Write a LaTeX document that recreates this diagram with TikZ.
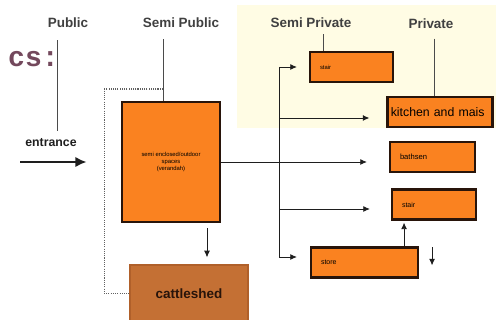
\documentclass[tikz,border=0pt]{standalone}
\usepackage{fontspec}
\setmainfont{Liberation Sans}
\newfontfamily\monofam{Liberation Mono}
\usetikzlibrary{arrows.meta, positioning, calc}
\definecolor{roomfill}{RGB}{250,130,32}
\definecolor{roomedge}{RGB}{40,20,10}
\definecolor{shedfill}{RGB}{196,112,52}
\definecolor{shededge}{RGB}{176,96,42}
\definecolor{creambg}{RGB}{255,252,228}
\definecolor{mydark}{RGB}{30,30,30}
\definecolor{mymauve}{RGB}{115,72,92}
\tikzset{
  zone/.style={font=\fontsize{11.5}{12}\selectfont\bfseries, color=mydark!85, inner sep=1pt},
  room/.style={rectangle, draw=roomedge, fill=roomfill, line width=1.8pt,
    minimum height=0.9cm, inner xsep=0.3cm, align=left,
    font=\fontsize{5}{6}\selectfont},
  arrow/.style={-{Latex[length=2mm,width=1.8mm]}, line width=0.8pt, color=mydark},
  bigarrow/.style={-{Latex[length=3.4mm,width=3.2mm]}, line width=2pt, color=mydark},
  vline/.style={line width=0.7pt, color=mydark!80},
  dotline/.style={densely dotted, line width=0.9pt, color=mydark!70},
  line/.style={line width=0.8pt, color=mydark}
}
\begin{document}
\begin{tikzpicture}[x=0.03cm, y=-0.03cm]
  \useasboundingbox (0,0) rectangle (496,320);

  % background
  \fill[creambg] (237,5) rectangle (496,128);
  \node[font=\monofam\bfseries\fontsize{24}{24}\selectfont, color=mymauve,
    anchor=base west, inner sep=0pt] (title) at (8,67) {cs:};

  % zone labels
  \node[zone] (pub) at (68,23) {Public};
  \node[zone] (spub) at (181,23) {Semi Public};
  \node[zone] (spriv) at (311,23) {Semi Private};
  \node[zone] (priv) at (431,24) {Private};
  \node[font=\fontsize{10.5}{11}\selectfont\bfseries, color=mydark] (entr) at (51,143) {entrance};

  % rooms
  \node[room, minimum width=2.94cm, minimum height=3.6cm, line width=2.4pt, align=center]
    (semi) at (171,162) {semi enclosed/outdoor\\spaces\\(verandah)};
  \node[room, text width=1.89cm] (stair1) at (351.5,67) {stair};
  \node[room, text width=2.95cm, inner xsep=0.1cm, font=\fontsize{10.5}{11}\selectfont]
    (kitchen) at (440,112) {kitchen and mais};
  \node[room, text width=1.95cm, font=\fontsize{6.5}{7}\selectfont] (bath) at (432.5,157) {bathsen};
  \node[room, text width=1.92cm, font=\fontsize{6}{7}\selectfont] (stair2) at (434,204.5) {stair};
  \node[room, text width=2.61cm, font=\fontsize{6}{7}\selectfont] (store) at (364.5,262.5) {store};
  \node[rectangle, draw=shededge, fill=shedfill, line width=1pt, minimum width=3.54cm,
    minimum height=1.71cm, text=roomedge, font=\fontsize{11.5}{12}\selectfont\bfseries]
    (cattle) at (189,293.5) {cattleshed};

  % lines from the zone labels
  \draw[vline, shorten <=0.33cm, shorten >=0.1cm] ([xshift=-0.33cm]pub.south) -- ([xshift=-0.33cm]pub.south |- entr.north);
  \draw[vline, shorten <=0.3cm] ([xshift=-0.54cm]spub.south) -- ([xshift=-0.54cm]spub.south |- semi.north);
  \draw[vline, shorten <=0.15cm] ([xshift=0.36cm]spriv.south) -- ([xshift=0.36cm]spriv.south |- stair1.north);
  \draw[vline, shorten <=0.25cm] ([xshift=0.09cm]priv.south) -- ([xshift=0.09cm]priv.south |- kitchen.north);

  % entrance and cattleshed
  \coordinate (entry) at (20,162);
  \draw[bigarrow, shorten >=1.02cm] (entry) -- (semi.west);
  \coordinate (dj) at (163,89);
  \draw[dotline] (dj) -| ([xshift=-0.75cm]cattle.west) -- (cattle.west);
  \draw[arrow, shorten <=0.15cm, shorten >=0.21cm] ([xshift=1.08cm]semi.south) -- ([xshift=1.08cm]semi.south |- cattle.north);

  % trunk to the private side
  \coordinate (trunk) at (279,163);
  \draw[line] (trunk |- stair1.west) -- ([yshift=0.165cm]trunk |- store.west);
  \draw[arrow, shorten >=0.36cm] (trunk |- stair1.west) -- (stair1.west);
  \draw[arrow, shorten >=0.51cm] ([yshift=-0.18cm]trunk |- kitchen.west) -- ([yshift=-0.18cm]kitchen.west);
  \draw[arrow, shorten >=0.66cm] (semi.east) -- (semi.east -| bath.west);
  \draw[arrow, shorten >=0.63cm] ([yshift=-0.135cm]trunk |- stair2.west) -- ([yshift=-0.135cm]stair2.west);
  \draw[arrow, shorten >=0.39cm] ([yshift=0.165cm]trunk |- store.west) -- ([yshift=0.165cm]store.west);
  \draw[arrow, shorten >=0.06cm] ([xshift=-0.45cm]store.north east) -- ([xshift=-0.45cm]store.north east |- stair2.south);
  \coordinate (exit) at ([xshift=0.39cm, yshift=-0.57cm]store.north east);
  \draw[arrow] ([xshift=0.39cm, yshift=-0.03cm]store.north east) -- (exit);
\end{tikzpicture}
\end{document}
